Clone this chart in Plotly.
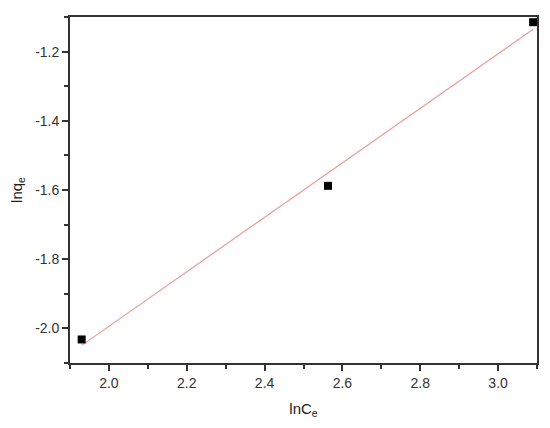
import numpy as np
import plotly.graph_objects as go

ln_ce = [1.930, 2.563, 3.090]
ln_qe = [-2.032, -1.588, -1.115]

x_ticks = [2.0, 2.2, 2.4, 2.6, 2.8, 3.0]
y_ticks = [-2.0, -1.8, -1.6, -1.4, -1.2]

slope, intercept = np.polyfit(ln_ce, ln_qe, 1)
fit_x = [min(ln_ce), max(ln_ce)]
fit_y = [slope * v + intercept for v in fit_x]

fig = go.Figure()
fig.add_trace(go.Scatter(x=fit_x, y=fit_y, mode="lines",
                         line=dict(color="#ee9a9a", width=1.2), showlegend=False))
fig.add_trace(go.Scatter(x=ln_ce, y=ln_qe, mode="markers",
                         marker=dict(symbol="square", size=8, color="black"),
                         showlegend=False))

font = dict(family="Liberation Sans, Arial, sans-serif", size=14, color="#333333")
axis_common = dict(showgrid=False, zeroline=False, showline=True, linecolor="#333333",
                   linewidth=1.8, mirror=True, ticks="outside", ticklen=6, tickwidth=1.5,
                   tickcolor="#333333", tickfont=font)

fig.update_xaxes(range=[1.9, 3.1], tickvals=x_ticks, ticktext=[f"{v:.1f}" for v in x_ticks],
                 minor=dict(ticks="outside", ticklen=4, tickwidth=1.5, tickcolor="#333333", dtick=0.1,
                            tick0=1.9),
                 title=dict(text="lnC<sub>e</sub>", font=dict(family="Liberation Sans, Arial, sans-serif", size=15, color="#222222"), standoff=14),
                 **axis_common)
fig.update_yaxes(range=[-2.1, -1.1], tickvals=y_ticks, ticktext=[f"{v:.1f}" for v in y_ticks],
                 minor=dict(ticks="outside", ticklen=4, tickwidth=1.5, tickcolor="#333333", dtick=0.1,
                            tick0=-2.1),
                 title=dict(text="lnq<sub>e</sub>", font=dict(family="Liberation Sans, Arial, sans-serif", size=15, color="#222222"), standoff=10),
                 **axis_common)

fig.update_layout(width=542, height=420, margin=dict(l=62, r=13, t=7, b=65),
                  paper_bgcolor="white", plot_bgcolor="white")

fig.write_html("out.html")
